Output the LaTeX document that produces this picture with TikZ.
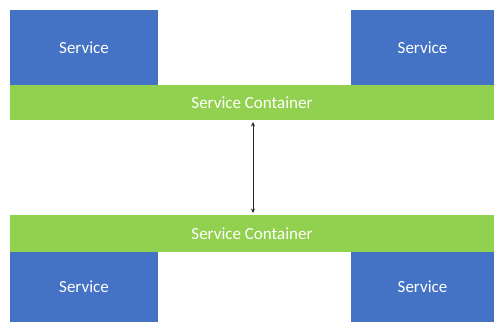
\documentclass[tikz,border=0pt]{standalone}
\usepackage{fontspec}
\setmainfont{Carlito}
\usetikzlibrary{arrows.meta}
\definecolor{svcblue}{HTML}{4472C4}
\definecolor{contgreen}{HTML}{92D050}
\tikzset{
  box/.style={rectangle, inner sep=0pt, outer sep=0pt, text=white,
    font=\fontsize{17}{19}\selectfont, anchor=north west},
  service/.style={box, fill=svcblue},
  container/.style={box, fill=contgreen},
  link/.style={draw=black!85, line width=1pt, {Stealth[length=4.5pt,width=4pt]}-{Stealth[length=4.5pt,width=4pt]}}
}
\begin{document}
\begin{tikzpicture}[x=1pt,y=-1pt]
  \useasboundingbox (0,0) rectangle (494,322);
  % upper group
  \node[service, minimum width=148pt, minimum height=75pt] (s1) at (10,10) {Service};
  \node[service, minimum width=143pt, minimum height=75pt] (s2) at (351,10) {Service};
  \node[container, minimum width=484pt, minimum height=35pt] (c1) at (10,85) {Service Container};
  % lower group
  \node[container, minimum width=484pt, minimum height=37pt] (c2) at (10,215) {Service Container};
  \node[service, minimum width=148pt, minimum height=70pt] (s3) at (10,252) {Service};
  \node[service, minimum width=143pt, minimum height=70pt] (s4) at (351,252) {Service};
  % link between the two containers
  \draw[link] ([xshift=1pt,yshift=-2pt]c1.south) -- ([xshift=1pt,yshift=2pt]c2.north);
\end{tikzpicture}
\end{document}
